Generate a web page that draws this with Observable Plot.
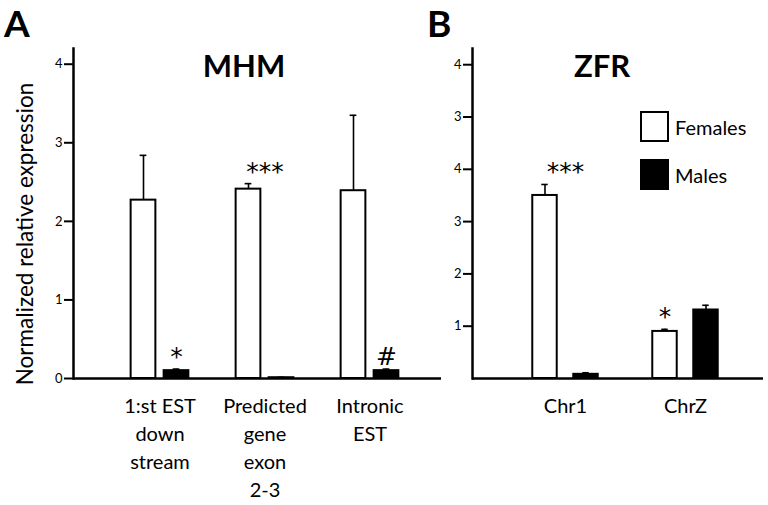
<!DOCTYPE html>
<html>
<head>
<meta charset="utf-8">
<script src="https://cdn.jsdelivr.net/npm/d3@7"></script>
<script src="https://cdn.jsdelivr.net/npm/@observablehq/plot@0.6"></script>
<style>
  html, body { margin: 0; padding: 0; background: white; }
  #wrap { position: relative; width: 768px; height: 505px; font-family: Lato, "Open Sans", sans-serif; color: black; overflow: hidden; }
  .abs { position: absolute; white-space: nowrap; }
  .panel-letter { font-weight: bold; font-size: 37px; line-height: 1; }
  .title { font-weight: bold; font-size: 31px; line-height: 1; transform: translate(-50%, -50%); }
  .ylab { font-size: 22.5px; transform: translate(-50%, -50%) rotate(-90deg); }
  .lgbox { width: 29px; height: 31px; box-sizing: border-box; border: 2.5px solid black; }
  .lgtext { font-size: 20px; transform: translateY(-50%); }
</style>
</head>
<body>
<div id="wrap">
  <div id="plotA" class="abs" style="left:0;top:0"></div>
  <div id="plotB" class="abs" style="left:400px;top:0"></div>
  <div class="abs panel-letter" style="left:4px;top:4px">A</div>
  <div class="abs panel-letter" style="left:427px;top:4px">B</div>
  <div class="abs title" style="left:244px;top:65px">MHM</div>
  <div class="abs title" style="left:602px;top:65px">ZFR</div>
  <div class="abs ylab" style="left:24px;top:234px">Normalized relative expression</div>
  <div class="abs lgbox" style="left:640px;top:111px;background:white"></div>
  <div class="abs lgbox" style="left:640px;top:159px;background:black"></div>
  <div class="abs lgtext" style="left:675px;top:127px">Females</div>
  <div class="abs lgtext" style="left:675px;top:175px">Males</div>
</div>
<script>
// ---- Panel A: MHM ----
const catsA = ["1:st EST\ndown\nstream", "Predicted\ngene\nexon\n2-3", "Intronic\nEST"];
const femalesA = [2.27, 2.41, 2.39];
const femalesErrA = [0.57, 0.07, 0.96];
const malesA = [0.10, 0.01, 0.10];
const malesErrA = [0.02, 0.005, 0.02];
const sigA = ["*", "***", "#"];
const sigPosA = ["Males", "both", "Males"];
const yTicksA = [0, 1, 2, 3, 4];
const yTickLabelsA = ["0", "1", "2", "3", "4"];

// ---- Panel B: ZFR ----
const catsB = ["Chr1", "ChrZ"];
const femalesB = [3.50, 0.90];
const femalesErrB = [0.21, 0.04];
const malesB = [0.08, 1.31];
const malesErrB = [0.03, 0.09];
const sigB = ["***", "*"];
const sigPosB = ["both", "Females"];
const yTicksB = [1, 2, 3, 4, 5, 6];
const yTickLabelsB = ["1", "2", "3", "4", "3", "4"];

function panel(o) {
  const rows = o.cats.map((c, i) => ({
    cat: c, f: o.fem[i], fe: o.fem[i] + o.femErr[i], m: o.mal[i], me: o.mal[i] + o.malErr[i],
    sig: o.sig[i], pos: o.sigPos[i]
  }));
  const n = o.cats.length;
  const bw = (o.width - o.marginLeft - o.marginRight) / (n + 2 * o.paddingOuter);
  const barW = 25;
  const inset = (bw - barW) / 2;
  const off = (barW + o.gap) / 2;
  const capInset = (bw - 7) / 2;
  const sigRows = rows.map(r => ({
    cat: r.cat, label: r.sig, pos: r.pos,
    y: r.pos === "Males" ? r.me : r.pos === "Females" ? r.fe : Math.max(r.fe, r.me)
  }));
  const tickMap = new Map(o.yTicks.map((t, i) => [t, o.yTickLabels[i]]));
  const sigText = (pos, dx) => Plot.text(sigRows, {
    filter: d => d.pos === pos, x: "cat", y: "y", text: "label", dx, dy: -4,
    lineAnchor: "bottom", fontSize: 25, fontFamily: "'DejaVu Sans', sans-serif", fill: "black"
  });
  return Plot.plot({
    width: o.width, height: 505,
    marginLeft: o.marginLeft, marginRight: o.marginRight, marginTop: 48, marginBottom: 127,
    style: { fontFamily: "Lato, 'Open Sans', sans-serif", color: "black", background: "transparent" },
    x: { domain: o.cats, paddingInner: 0, paddingOuter: o.paddingOuter, align: o.align },
    y: { domain: o.yDomain },
    marks: [
      Plot.ruleX(rows, { x: "cat", y1: "f", y2: "fe", dx: -off, stroke: "black", strokeWidth: 1.6 }),
      Plot.tickY(rows, { x: "cat", y: "fe", dx: -off, inset: capInset, stroke: "black", strokeWidth: 1.6 }),
      Plot.ruleX(rows, { x: "cat", y1: "m", y2: "me", dx: off, stroke: "black", strokeWidth: 1.6 }),
      Plot.tickY(rows, { x: "cat", y: "me", dx: off, inset: capInset, stroke: "black", strokeWidth: 1.6 }),
      Plot.barY(rows, { x: "cat", y: "f", dx: -off, insetLeft: inset, insetRight: inset, fill: "white", stroke: "black", strokeWidth: 2 }),
      Plot.barY(rows, { x: "cat", y: "m", dx: off, insetLeft: inset, insetRight: inset, fill: "black", stroke: "black", strokeWidth: 2 }),
      sigText("Males", off),
      sigText("Females", -off),
      sigText("both", 0),
      Plot.ruleY([0], { stroke: "black", strokeWidth: 2.5 }),
      Plot.frame({ anchor: "left", stroke: "black", strokeWidth: 2.5 }),
      Plot.axisY({ ticks: o.yTicks, tickFormat: t => tickMap.get(t), tickSize: 9, tickPadding: 2, fontSize: 13, strokeWidth: 2, label: null }),
      Plot.axisX({ tickSize: 0, tickPadding: 15, fontSize: 20, lineHeight: 1.4, label: null })
    ]
  });
}

document.getElementById("plotA").append(panel({
  cats: catsA, fem: femalesA, femErr: femalesErrA, mal: malesA, malErr: malesErrA,
  sig: sigA, sigPos: sigPosA, yTicks: yTicksA, yTickLabels: yTickLabelsA,
  width: 450, marginLeft: 73, marginRight: 9, paddingOuter: 0.248, align: 0.64, gap: 8,
  yDomain: [0, 4.2]
}));
document.getElementById("plotB").append(panel({
  cats: catsB, fem: femalesB, femErr: femalesErrB, mal: malesB, malErr: malesErrB,
  sig: sigB, sigPos: sigPosB, yTicks: yTicksB, yTickLabels: yTickLabelsB,
  width: 368, marginLeft: 72, marginRight: 5, paddingOuter: 0.207, align: 0.655, gap: 16,
  yDomain: [0, 6.31]
}));
</script>
</body>
</html>
